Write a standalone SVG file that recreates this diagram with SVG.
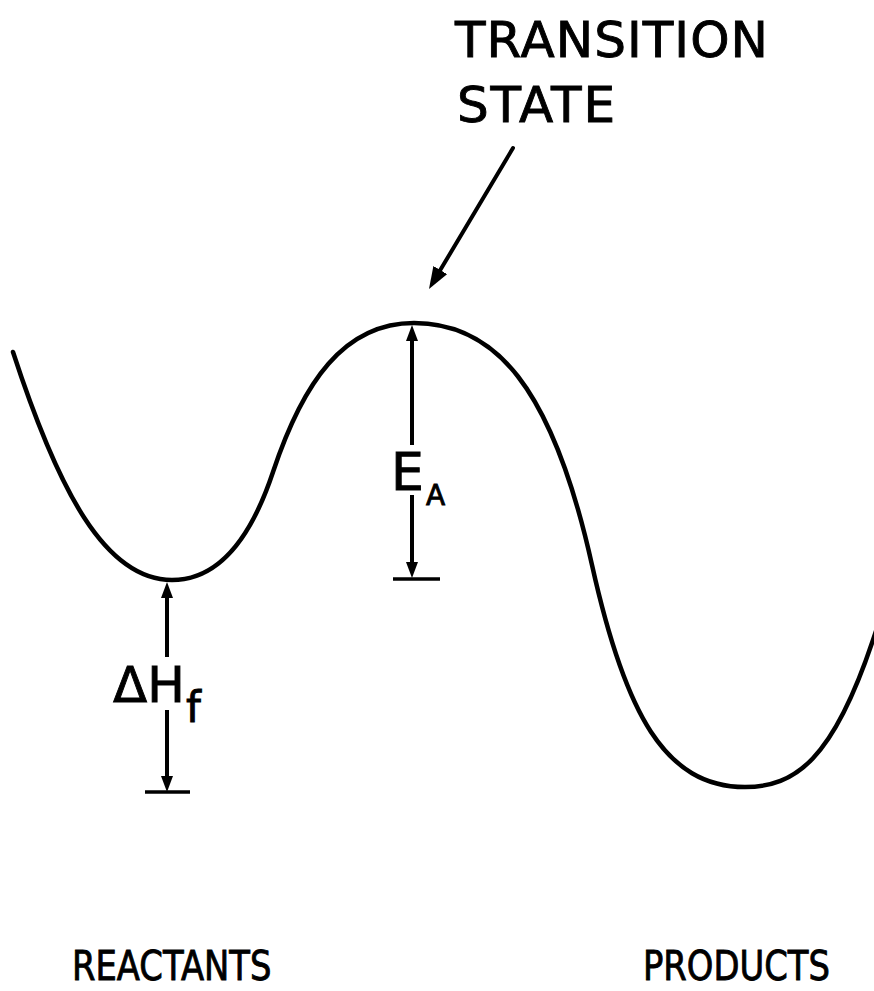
<svg xmlns="http://www.w3.org/2000/svg" width="874" height="991" viewBox="0 0 874 991">
<style>
.lbl{font-family:"DejaVu Sans","Liberation Sans",sans-serif;fill:#000;stroke:#000;stroke-width:0.9}
.ln{stroke:#000;stroke-width:4;fill:none}
.tick{stroke:#000;stroke-width:3.5;fill:none}
</style>
<defs>
<marker id="ah" viewBox="0 0 16 12" refX="10" refY="6" markerWidth="16" markerHeight="12" markerUnits="userSpaceOnUse" orient="auto"><path d="M0,0 L16,6 L0,12 z" fill="#000"/></marker>
<marker id="ahBig" viewBox="0 0 22 16" refX="14" refY="8" markerWidth="22" markerHeight="16" markerUnits="userSpaceOnUse" orient="auto"><path d="M0,0 L22,8 L0,16 z" fill="#000"/></marker>
</defs>
<rect width="874" height="991" fill="#fff"/>
<g id="curve">
<path d="M13,352 C58,490 105,580 172,580 C222,580 253,532 273,472 C303,382 344,323 414,323 C494,323 552,385 592,565 C625,713.5 665,787 745,787 C795,787 833,760 873,640 L877,628" stroke="#000" stroke-width="4.5" fill="none" stroke-linecap="round"/>
</g>
<g id="connectors">
<line class="ln" x1="513" y1="148" x2="433.1" y2="282.1" stroke-width="5" stroke-linecap="round" marker-end="url(#ahBig)"/>
<line class="ln" x1="412" y1="445" x2="412" y2="331" marker-end="url(#ah)"/>
<line class="ln" x1="412" y1="495" x2="412" y2="572" marker-end="url(#ah)"/>
<line class="tick" x1="393" y1="579" x2="440" y2="579"/>
<line class="ln" x1="167" y1="657" x2="167" y2="588" marker-end="url(#ah)"/>
<line class="ln" x1="167" y1="710" x2="167" y2="786" marker-end="url(#ah)"/>
<line class="tick" x1="145" y1="792" x2="190" y2="792"/>
</g>
<g id="transition-state">
<text class="lbl" x="455" y="57" font-size="50" textLength="313" lengthAdjust="spacing">TRANSITION</text>
<text class="lbl" x="457" y="122" font-size="50" textLength="158" lengthAdjust="spacing">STATE</text>
</g>
<g id="ea-label">
<text class="lbl" x="391" y="490" font-size="52">E</text>
<text class="lbl" x="426" y="505" font-size="28">A</text>
</g>
<g id="dhf-label">
<text class="lbl" x="113" y="702" font-size="50">ΔH</text>
<text class="lbl" x="186" y="722" font-size="42">f</text>
</g>
<g id="reactants">
<text class="lbl" transform="translate(72,980) scale(0.845,1)" x="0" y="0" font-size="40">REACTANTS</text>
</g>
<g id="products">
<text class="lbl" transform="translate(643,980) scale(0.845,1)" x="0" y="0" font-size="40">PRODUCTS</text>
</g>
</svg>
